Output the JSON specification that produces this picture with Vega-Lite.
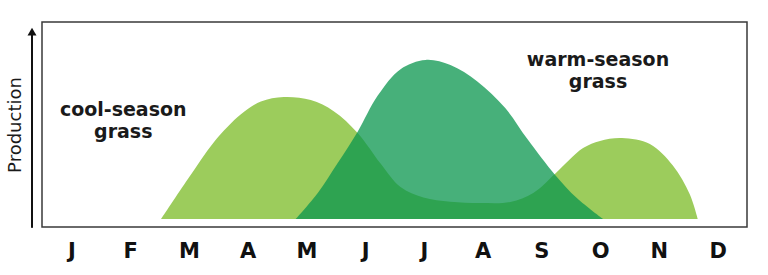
{
  "$schema": "https://vega.github.io/schema/vega-lite/v6.json",
  "width": 705,
  "height": 205,
  "autosize": "none",
  "padding": {"left": 42, "top": 22, "right": 21, "bottom": 48},
  "background": "white",
  "config": {
    "view": {"stroke": "#3a3a3a", "strokeWidth": 1.5},
    "font": "DejaVu Sans"
  },
  "datasets": {
    "curves": [
      {"series": "cool", "month": 1.528, "production": 3.9},
      {"series": "cool", "month": 1.986, "production": 23.5},
      {"series": "cool", "month": 2.428, "production": 41.5},
      {"series": "cool", "month": 2.886, "production": 55.0},
      {"series": "cool", "month": 3.226, "production": 61.2},
      {"series": "cool", "month": 3.616, "production": 63.4},
      {"series": "cool", "month": 4.075, "production": 61.9},
      {"series": "cool", "month": 4.465, "production": 56.5},
      {"series": "cool", "month": 4.873, "production": 45.9},
      {"series": "cool", "month": 5.263, "production": 31.0},
      {"series": "cool", "month": 5.603, "production": 19.5},
      {"series": "cool", "month": 5.993, "production": 14.4},
      {"series": "cool", "month": 6.452, "production": 12.3},
      {"series": "cool", "month": 6.961, "production": 11.7},
      {"series": "cool", "month": 7.47, "production": 12.2},
      {"series": "cool", "month": 7.861, "production": 16.6},
      {"series": "cool", "month": 8.234, "production": 26.0},
      {"series": "cool", "month": 8.71, "production": 38.5},
      {"series": "cool", "month": 8.998, "production": 42.0},
      {"series": "cool", "month": 9.372, "production": 43.4},
      {"series": "cool", "month": 9.847, "production": 40.5},
      {"series": "cool", "month": 10.238, "production": 30.0},
      {"series": "cool", "month": 10.526, "production": 16.0},
      {"series": "cool", "month": 10.662, "production": 3.9},
      {"series": "warm", "month": 3.82, "production": 3.9},
      {"series": "warm", "month": 4.194, "production": 16.6},
      {"series": "warm", "month": 4.533, "production": 31.2},
      {"series": "warm", "month": 4.873, "production": 46.5},
      {"series": "warm", "month": 5.212, "production": 64.0},
      {"series": "warm", "month": 5.603, "production": 77.0},
      {"series": "warm", "month": 6.027, "production": 81.5},
      {"series": "warm", "month": 6.452, "production": 79.0},
      {"series": "warm", "month": 6.91, "production": 71.0},
      {"series": "warm", "month": 7.385, "production": 58.0},
      {"series": "warm", "month": 7.759, "production": 43.0},
      {"series": "warm", "month": 8.234, "production": 25.4},
      {"series": "warm", "month": 8.608, "production": 14.0},
      {"series": "warm", "month": 9.049, "production": 3.9}
    ],
    "labels": [
      {"month": 0.883, "production": 54.2, "label": "cool-season"},
      {"month": 0.883, "production": 43.4, "label": "grass"},
      {"month": 8.964, "production": 78.5, "label": "warm-season"},
      {"month": 8.964, "production": 67.7, "label": "grass"}
    ]
  },
  "layer": [
    {
      "data": {"name": "curves"},
      "transform": [{"filter": "datum.series === 'cool'"}],
      "mark": {"type": "area", "interpolate": "catmull-rom", "color": "#9ccc5c", "opacity": 1},
      "encoding": {
        "x": {
          "field": "month", "type": "quantitative",
          "scale": {"domain": [-0.5, 11.5], "nice": false, "zero": false},
          "axis": {
            "values": [0, 1, 2, 3, 4, 5, 6, 7, 8, 9, 10, 11],
            "labelExpr": "['J','F','M','A','M','J','J','A','S','O','N','D'][datum.value]",
            "grid": false, "domain": false, "ticks": false, "tickSize": 0,
            "labelFont": "DejaVu Sans", "labelFontWeight": "bold", "labelFontSize": 21,
            "labelColor": "#111111", "labelBaseline": "alphabetic", "labelPadding": 30,
            "labelFlush": false, "labelOverlap": false,
            "title": null
          }
        },
        "y": {
          "field": "production", "type": "quantitative",
          "scale": {"domain": [0, 100], "nice": false},
          "axis": {
            "title": "Production", "titleFont": "DejaVu Sans", "titleFontWeight": "normal",
            "titleFontSize": 18, "titleColor": "#1a1a1a", "titleBaseline": "alphabetic",
            "titlePadding": 22,
            "labels": false, "ticks": false, "domain": false, "grid": false
          }
        },
        "y2": {"datum": 3.9}
      }
    },
    {
      "data": {"name": "curves"},
      "transform": [{"filter": "datum.series === 'warm'"}],
      "mark": {"type": "area", "interpolate": "catmull-rom", "color": "#0a964e", "opacity": 0.75},
      "encoding": {
        "x": {"field": "month", "type": "quantitative"},
        "y": {"field": "production", "type": "quantitative"},
        "y2": {"datum": 3.9}
      }
    },
    {
      "data": {"name": "labels"},
      "mark": {
        "type": "text", "font": "DejaVu Sans", "fontWeight": "bold", "fontSize": 19,
        "align": "center", "baseline": "alphabetic",
        "color": "#1a1a1a"
      },
      "encoding": {
        "x": {"field": "month", "type": "quantitative"},
        "y": {"field": "production", "type": "quantitative"},
        "text": {"field": "label"}
      }
    },
    {
      "data": {"values": [{}]},
      "mark": {"type": "rule", "color": "#111111", "strokeWidth": 2, "clip": false},
      "encoding": {
        "x": {"datum": -0.67},
        "y": {"datum": -0.4},
        "y2": {"datum": 94}
      }
    },
    {
      "data": {"values": [{}]},
      "mark": {"type": "point", "shape": "triangle-up", "filled": true, "color": "#111111", "size": 80, "opacity": 1, "clip": false},
      "encoding": {
        "x": {"datum": -0.67},
        "y": {"datum": 95.3}
      }
    }
  ]
}
